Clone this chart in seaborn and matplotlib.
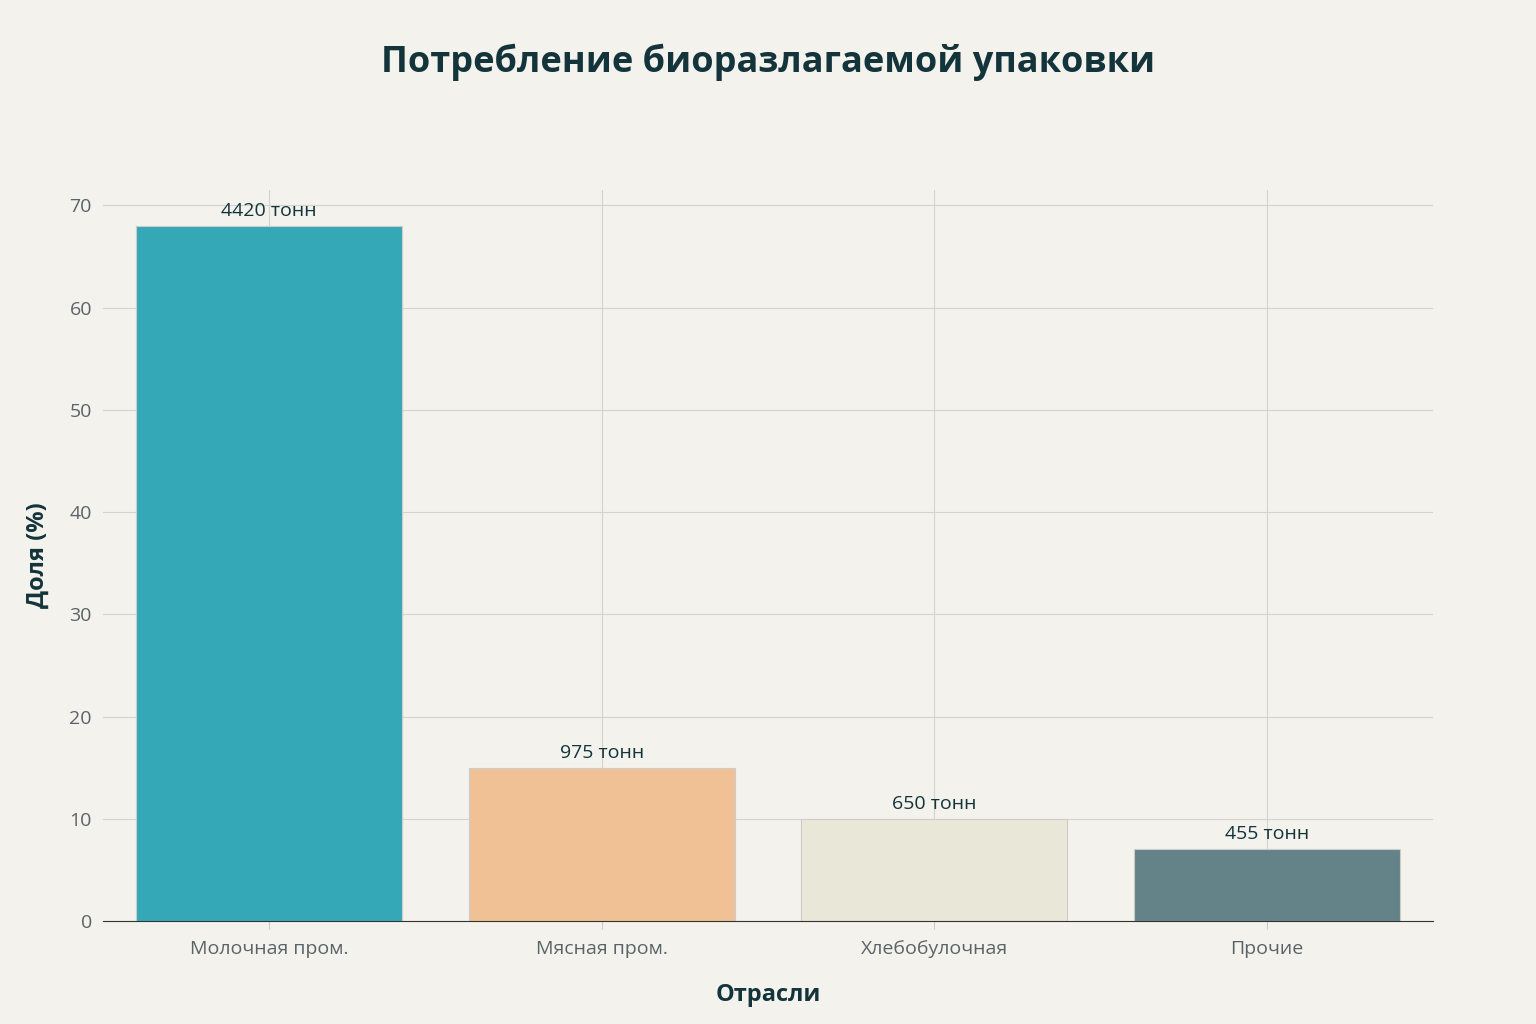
import matplotlib
matplotlib.use("Agg")
import matplotlib.pyplot as plt
import seaborn as sns
import pandas as pd

categories = ["Молочная пром.", "Мясная пром.", "Хлебобулочная", "Прочие"]
shares = [68, 15, 10, 7]
labels = ["4420 тонн", "975 тонн", "650 тонн", "455 тонн"]
colors = ["#1FB8CD", "#FFC185", "#ECEBD5", "#5D878F"]

df = pd.DataFrame({"cat": categories, "share": shares})
bg = "#F3F2EC"
plt.rcParams["font.family"] = "Open Sans"
fig = plt.figure(figsize=(15.36, 10.24), dpi=100, facecolor=bg)
ax = fig.add_axes([103/1536, 1-921/1024, (1433-103)/1536, (921-190)/1024])
ax.set_facecolor(bg)
sns.barplot(data=df, x="cat", y="share", hue="cat", palette=colors, legend=False,
            width=0.8, ax=ax, edgecolor="#cccccc", linewidth=0.8, zorder=2)
ax.set_xlim(-0.5, 3.5)
ax.set_ylim(0, 71.5)
ax.set_yticks(range(0, 71, 10))
ax.grid(True, color="#d3d3d0", linewidth=0.8, zorder=0)
ax.set_axisbelow(True)
for s in ["top", "right", "left"]:
    ax.spines[s].set_visible(False)
ax.spines["bottom"].set_color("#333333")
ax.tick_params(axis="both", length=0, labelsize=14, labelcolor="#5a6468", pad=8)
ax.tick_params(axis="x", length=6, color="#cccccc")
for i, (v, l) in enumerate(zip(shares, labels)):
    ax.text(i, v + 0.6, l, ha="center", va="bottom", fontsize=14, color="#13343B")
ax.set_xlabel("Отрасли", fontsize=17, fontweight="bold", color="#13343B", labelpad=18)
ax.set_ylabel("Доля (%)", fontsize=17, fontweight="bold", color="#13343B", labelpad=14)
fig.text(0.5, 1-62/1024, "Потребление биоразлагаемой упаковки", ha="center", va="center",
         fontsize=26, fontweight="bold", color="#13343B")
fig.savefig("out.png", dpi=100, facecolor=bg)
